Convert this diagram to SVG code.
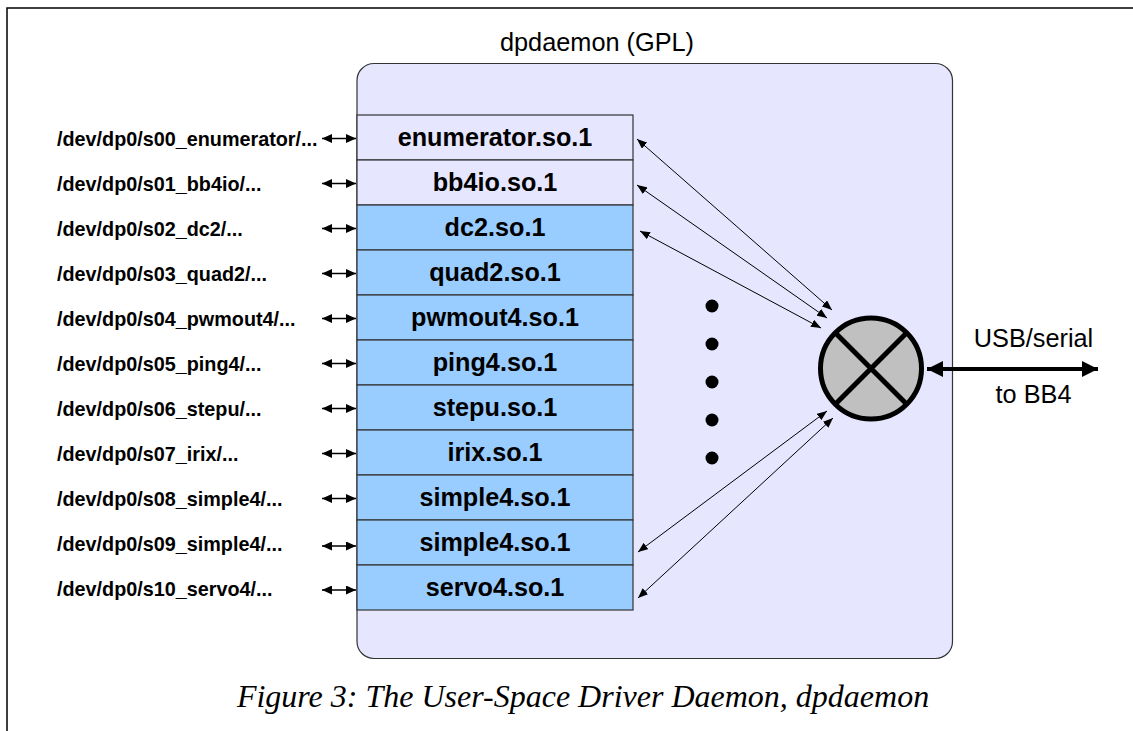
<svg xmlns="http://www.w3.org/2000/svg" width="1133" height="731" viewBox="0 0 1133 731">
<style>
.lbl{font-family:"Liberation Sans",Arial,sans-serif;font-weight:bold;font-size:19.8px;fill:#000}
.mod{font-family:"Liberation Sans",Arial,sans-serif;font-weight:bold;font-size:25.2px;fill:#000;text-anchor:middle}
.reg{font-family:"Liberation Sans",Arial,sans-serif;font-size:25.3px;fill:#000;text-anchor:middle}
.cap{font-family:"Liberation Serif","Times New Roman",serif;font-style:italic;font-size:32px;fill:#000;text-anchor:middle}
.rowA{fill:#e6e6ff;stroke:#333;stroke-width:1.2}
.rowB{fill:#99ccff;stroke:#333;stroke-width:1.2}
.thin{stroke:#000;stroke-width:1;fill:none;marker-start:url(#ah);marker-end:url(#ah)}
.side{stroke:#000;stroke-width:1.6;fill:none;marker-start:url(#sh);marker-end:url(#sh)}
.dot{fill:#000}
</style>
<defs>
<marker id="ah" viewBox="0 0 10 8" refX="10" refY="4" markerWidth="10" markerHeight="8" markerUnits="userSpaceOnUse" orient="auto-start-reverse"><path d="M0,0 L10,4 L0,8 Z" fill="#000"/></marker>
<marker id="sh" viewBox="0 0 10 9" refX="10" refY="4.5" markerWidth="10" markerHeight="9" markerUnits="userSpaceOnUse" orient="auto-start-reverse"><path d="M0,0 L10,4.5 L0,9 Z" fill="#000"/></marker>
<marker id="bh" viewBox="0 0 16 16" refX="16" refY="8" markerWidth="16" markerHeight="16" markerUnits="userSpaceOnUse" orient="auto-start-reverse"><path d="M0,0 L16,8 L0,16 Z" fill="#000"/></marker>
</defs>
<rect width="1133" height="731" fill="#fff"/>
<g id="frame"><path d="M7,731 L7,8 L1133,8" fill="none" stroke="#000" stroke-width="1.5"/></g>
<g id="daemon">
<rect x="357" y="63.5" width="595.5" height="595" rx="17" ry="17" fill="#e6e6ff" stroke="#333" stroke-width="1.2"/>
<text class="reg" x="597" y="51">dpdaemon (GPL)</text>
</g>
<g id="mod-enumerator"><rect class="rowA" x="357" y="115" width="276" height="45"/><text class="mod" x="495" y="146">enumerator.so.1</text></g>
<g id="mod-bb4io"><rect class="rowA" x="357" y="160" width="276" height="45"/><text class="mod" x="495" y="191">bb4io.so.1</text></g>
<g id="mod-dc2"><rect class="rowB" x="357" y="205" width="276" height="45"/><text class="mod" x="495" y="236">dc2.so.1</text></g>
<g id="mod-quad2"><rect class="rowB" x="357" y="250" width="276" height="45"/><text class="mod" x="495" y="281">quad2.so.1</text></g>
<g id="mod-pwmout4"><rect class="rowB" x="357" y="295" width="276" height="45"/><text class="mod" x="495" y="326">pwmout4.so.1</text></g>
<g id="mod-ping4"><rect class="rowB" x="357" y="340" width="276" height="45"/><text class="mod" x="495" y="371">ping4.so.1</text></g>
<g id="mod-stepu"><rect class="rowB" x="357" y="385" width="276" height="45"/><text class="mod" x="495" y="416">stepu.so.1</text></g>
<g id="mod-irix"><rect class="rowB" x="357" y="430" width="276" height="45"/><text class="mod" x="495" y="461">irix.so.1</text></g>
<g id="mod-simple4a"><rect class="rowB" x="357" y="475" width="276" height="45"/><text class="mod" x="495" y="506">simple4.so.1</text></g>
<g id="mod-simple4b"><rect class="rowB" x="357" y="520" width="276" height="45"/><text class="mod" x="495" y="551">simple4.so.1</text></g>
<g id="mod-servo4"><rect class="rowB" x="357" y="565" width="276" height="45"/><text class="mod" x="495" y="596">servo4.so.1</text></g>
<g id="dev-labels">
<text class="lbl" x="57" y="146">/dev/dp0/s00_enumerator/...</text>
<text class="lbl" x="57" y="191">/dev/dp0/s01_bb4io/...</text>
<text class="lbl" x="57" y="236">/dev/dp0/s02_dc2/...</text>
<text class="lbl" x="57" y="281">/dev/dp0/s03_quad2/...</text>
<text class="lbl" x="57" y="326">/dev/dp0/s04_pwmout4/...</text>
<text class="lbl" x="57" y="371">/dev/dp0/s05_ping4/...</text>
<text class="lbl" x="57" y="416">/dev/dp0/s06_stepu/...</text>
<text class="lbl" x="57" y="461">/dev/dp0/s07_irix/...</text>
<text class="lbl" x="57" y="506">/dev/dp0/s08_simple4/...</text>
<text class="lbl" x="57" y="551">/dev/dp0/s09_simple4/...</text>
<text class="lbl" x="57" y="596">/dev/dp0/s10_servo4/...</text>
</g>
<g id="ellipsis">
<circle class="dot" cx="712" cy="306" r="6.5"/>
<circle class="dot" cx="712" cy="344" r="6.5"/>
<circle class="dot" cx="712" cy="382" r="6.5"/>
<circle class="dot" cx="712" cy="420" r="6.5"/>
<circle class="dot" cx="712" cy="458" r="6.5"/>
</g>
<g id="mux">
<circle cx="871" cy="368.5" r="50.5" fill="#c0c0c0" stroke="#000" stroke-width="5"/>
<path d="M836,333.5 L906,403.5 M906,333.5 L836,403.5" stroke="#000" stroke-width="5"/>
</g>
<g id="usb-label">
<text class="reg" x="1033.5" y="346.5">USB/serial</text>
<text class="reg" x="1033.5" y="403">to BB4</text>
</g>
<g id="connectors">
<line class="side" x1="322" y1="138.5" x2="356" y2="138.5"/>
<line class="side" x1="322" y1="183.5" x2="356" y2="183.5"/>
<line class="side" x1="322" y1="228.5" x2="356" y2="228.5"/>
<line class="side" x1="322" y1="273.5" x2="356" y2="273.5"/>
<line class="side" x1="322" y1="318.5" x2="356" y2="318.5"/>
<line class="side" x1="322" y1="363.5" x2="356" y2="363.5"/>
<line class="side" x1="322" y1="408.5" x2="356" y2="408.5"/>
<line class="side" x1="322" y1="453.5" x2="356" y2="453.5"/>
<line class="side" x1="322" y1="498.5" x2="356" y2="498.5"/>
<line class="side" x1="322" y1="546" x2="356" y2="546"/>
<line class="side" x1="322" y1="590" x2="356" y2="590"/>
<line class="thin" x1="637" y1="139" x2="832" y2="310"/>
<line class="thin" x1="637" y1="185" x2="827" y2="318"/>
<line class="thin" x1="640" y1="231" x2="821" y2="328"/>
<line class="thin" x1="827" y1="411" x2="638" y2="552"/>
<line class="thin" x1="833" y1="418" x2="638" y2="598"/>
<line x1="927" y1="369" x2="1098" y2="369" stroke="#000" stroke-width="4" marker-start="url(#bh)" marker-end="url(#bh)"/>
</g>
<g id="caption"><text class="cap" x="583" y="707">Figure 3: The User-Space Driver Daemon, dpdaemon</text></g>
</svg>
